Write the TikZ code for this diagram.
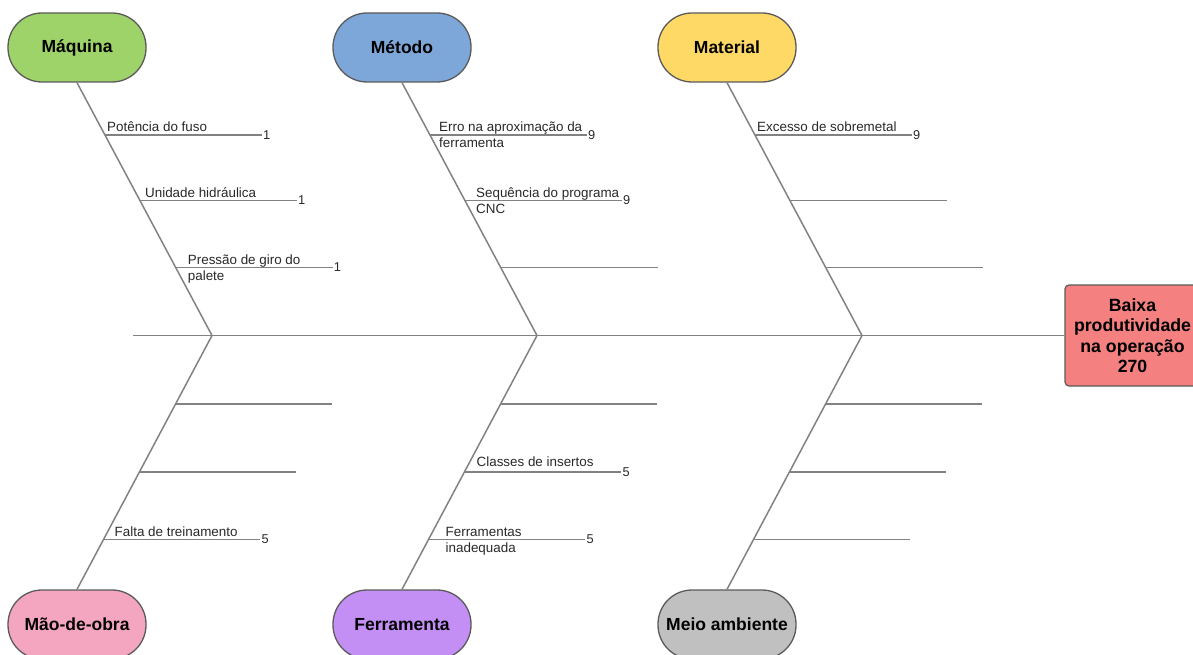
\documentclass[tikz,border=0pt]{standalone}
\usepackage{fontspec}
\setmainfont{Liberation Sans}
\usetikzlibrary{calc}
\definecolor{cgreen}{RGB}{158,211,106}
\definecolor{cblue}{RGB}{125,167,217}
\definecolor{cyellow}{RGB}{255,217,102}
\definecolor{cpink}{RGB}{244,166,192}
\definecolor{cpurple}{RGB}{195,143,245}
\definecolor{cgray}{RGB}{192,192,192}
\definecolor{cred}{RGB}{244,128,128}
\definecolor{border}{RGB}{90,90,90}
\definecolor{linegray}{RGB}{130,130,130}
\definecolor{textgray}{RGB}{40,40,40}
\begin{document}
\begin{tikzpicture}[x=1pt,y=-1pt,
  cat/.style={draw=border,line width=1.3pt,minimum width=138pt,minimum height=69pt,
    rounded corners=34pt,inner sep=0pt,font=\fontsize{17.5}{20}\selectfont\bfseries},
  bone/.style={draw=linegray,line width=1.5pt},
  lbl/.style={font=\fontsize{13.4}{16}\selectfont,anchor=base west,align=left,
    inner sep=0pt,text=textgray},
  num/.style={font=\fontsize{12.8}{14}\selectfont,anchor=west,inner sep=1pt,text=textgray}]
\useasboundingbox (0,0) rectangle (1193,655);

% category nodes
\node[cat,fill=cgreen]  (maq) at (77,47.5)  {Máquina};
\node[cat,fill=cblue]   (met) at (402,47.5) {Método};
\node[cat,fill=cyellow] (mat) at (727,47.5) {Material};
\node[cat,fill=cpink]   (mao) at (77,624.5) {Mão-de-obra};
\node[cat,fill=cpurple] (fer) at (402,624.5){Ferramenta};
\node[cat,fill=cgray]   (mei) at (727,624.5){Meio ambiente};

% effect
\node[draw=border,line width=1.2pt,fill=cred,rounded corners=4pt,minimum width=135pt,
  minimum height=101pt,align=center,inner sep=0pt,
  font=\fontsize{17.7}{20.5}\selectfont\bfseries] (eff) at (1132.5,335.5)
  {Baixa\\produtividade\\na operação\\270};

% spine
\coordinate (tail) at (133,335.5);
\coordinate (j1) at (212,335.5);
\coordinate (j2) at (537,335.5);
\coordinate (j3) at (862,335.5);
\draw[bone] (tail) -- (eff.west);

% main bones
\draw[bone] (maq.south) -- (j1) -- (mao.north);
\draw[bone] (met.south) -- (j2) -- (fer.north);
\draw[bone] (mat.south) -- (j3) -- (mei.north);

% --- Máquina
\coordinate (a1) at ($(maq.south)!0.2075!(j1)$);
\coordinate (a2) at ($(maq.south)!0.4664!(j1)$);
\coordinate (a3) at ($(maq.south)!0.7312!(j1)$);
\draw[bone] (a1) -- ++(157,0) coordinate (a1e);
\draw[bone] (a2) -- ++(157,0) coordinate (a2e);
\draw[bone] (a3) -- ++(157,0) coordinate (a3e);
\node[num] (na1) at (a1e) {1};
\node[num] (na2) at (a2e) {1};
\node[num] (na3) at (a3e) {1};
\node[lbl] (la1) at ($(a1)+(2,-3.5)$) {Potência do fuso};
\node[lbl] (la2) at ($(a2)+(5,-3.5)$) {Unidade hidráulica};
\node[lbl] (la3) at ($(a3)+(12,12.5)$) {Pressão de giro do\\palete};

% --- Método
\coordinate (b1) at ($(met.south)!0.2075!(j2)$);
\coordinate (b2) at ($(met.south)!0.4664!(j2)$);
\coordinate (b3) at ($(met.south)!0.7312!(j2)$);
\draw[bone] (b1) -- ++(157,0) coordinate (b1e);
\draw[bone] (b2) -- ++(157,0) coordinate (b2e);
\draw[bone] (b3) -- ++(157,0) coordinate (b3e);
\node[num] (nb1) at (b1e) {9};
\node[num] (nb2) at (b2e) {9};
\node[lbl] (lb1) at ($(b1)+(9,12.5)$) {Erro na aproximação da\\ferramenta};
\node[lbl] (lb2) at ($(b2)+(11,12.5)$) {Sequência do programa\\CNC};

% --- Material
\coordinate (c1) at ($(mat.south)!0.2075!(j3)$);
\coordinate (c2) at ($(mat.south)!0.4664!(j3)$);
\coordinate (c3) at ($(mat.south)!0.7312!(j3)$);
\draw[bone] (c1) -- ++(157,0) coordinate (c1e);
\draw[bone] (c2) -- ++(157,0) coordinate (c2e);
\draw[bone] (c3) -- ++(157,0) coordinate (c3e);
\node[num] (nc1) at (c1e) {9};
\node[lbl] (lc1) at ($(c1)+(2,-3.5)$) {Excesso de sobremetal};

% --- Mão-de-obra
\coordinate (d1) at ($(j1)!0.2706!(mao.north)$);
\coordinate (d2) at ($(j1)!0.5373!(mao.north)$);
\coordinate (d3) at ($(j1)!0.8039!(mao.north)$);
\draw[bone] (d1) -- ++(157,0) coordinate (d1e);
\draw[bone] (d2) -- ++(157,0) coordinate (d2e);
\draw[bone] (d3) -- ++(157,0) coordinate (d3e);
\node[num] (nd3) at (d3e) {5};
\node[lbl] (ld3) at ($(d3)+(11,-3.5)$) {Falta de treinamento};

% --- Ferramenta
\coordinate (e1) at ($(j2)!0.2706!(fer.north)$);
\coordinate (e2) at ($(j2)!0.5373!(fer.north)$);
\coordinate (e3) at ($(j2)!0.8039!(fer.north)$);
\draw[bone] (e1) -- ++(157,0) coordinate (e1e);
\draw[bone] (e2) -- ++(157,0) coordinate (e2e);
\draw[bone] (e3) -- ++(157,0) coordinate (e3e);
\node[num] (ne2) at (e2e) {5};
\node[num] (ne3) at (e3e) {5};
\node[lbl] (le2) at ($(e2)+(12,-5.5)$) {Classes de insertos};
\node[lbl] (le3) at ($(e3)+(17,13)$) {Ferramentas\\inadequada};

% --- Meio ambiente
\coordinate (f1) at ($(j3)!0.2706!(mei.north)$);
\coordinate (f2) at ($(j3)!0.5373!(mei.north)$);
\coordinate (f3) at ($(j3)!0.8039!(mei.north)$);
\draw[bone] (f1) -- ++(157,0) coordinate (f1e);
\draw[bone] (f2) -- ++(157,0) coordinate (f2e);
\draw[bone] (f3) -- ++(157,0) coordinate (f3e);
\end{tikzpicture}
\end{document}
